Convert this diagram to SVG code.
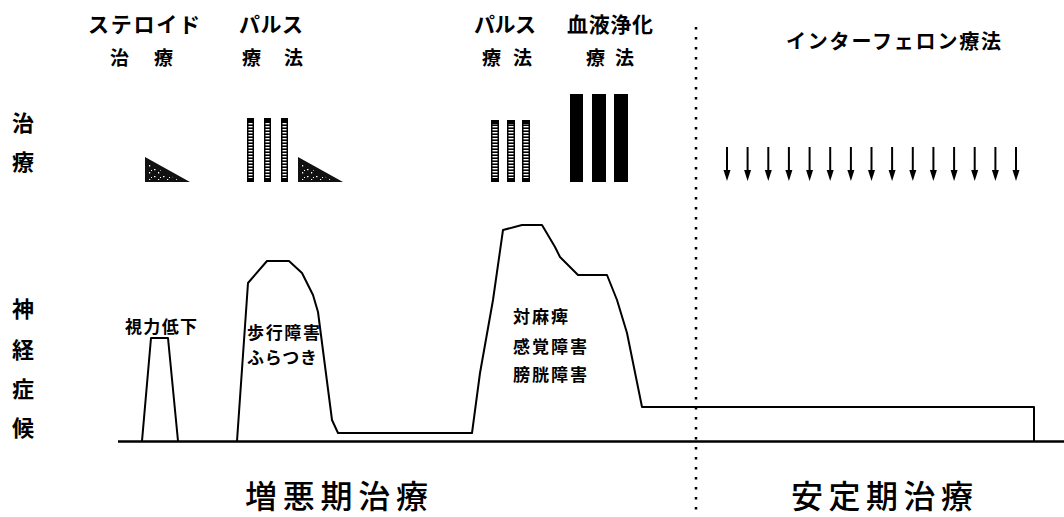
<svg xmlns="http://www.w3.org/2000/svg" width="1064" height="517" viewBox="0 0 1064 517">
<style>
.t{font-family:"Noto Sans CJK JP","Noto Sans CJK SC",sans-serif;fill:#000;font-weight:700}
.b{font-family:"Noto Sans CJK JP","Noto Sans CJK SC",sans-serif;fill:#000;font-weight:500}
.c{fill:none;stroke:#000;stroke-width:2;stroke-linejoin:round}
.bar{fill:#000}
.stripe{fill:url(#stripes)}
.tri{fill:#111}
.speck{fill:url(#specks)}
.arr{stroke:#000;stroke-width:2}
</style>
<defs>
<pattern id="stripes" patternUnits="userSpaceOnUse" width="20" height="3">
<rect x="0" y="0" width="20" height="1.4" fill="#fff"/>
</pattern>
<pattern id="specks" patternUnits="userSpaceOnUse" width="9" height="7">
<rect x="1" y="1" width="1.5" height="1.2" fill="#fff"/>
<rect x="5" y="4" width="1.2" height="1.5" fill="#fff"/>
<rect x="7" y="2" width="1" height="1" fill="#fff"/>
</pattern>
<polygon id="ah" points="-3.5,0 3.5,0 0,11"/>
</defs>

<g id="axis-labels">
<text class="t" x="23" y="121" font-size="22" text-anchor="middle" dominant-baseline="central">治</text>
<text class="t" x="23" y="160" font-size="22" text-anchor="middle" dominant-baseline="central">療</text>
<text class="t" x="23" y="307" font-size="22" text-anchor="middle" dominant-baseline="central">神</text>
<text class="t" x="23" y="348" font-size="22" text-anchor="middle" dominant-baseline="central">経</text>
<text class="t" x="23" y="387" font-size="22" text-anchor="middle" dominant-baseline="central">症</text>
<text class="t" x="23" y="426" font-size="22" text-anchor="middle" dominant-baseline="central">候</text>
</g>

<g id="steroid">
<text class="t" x="88" y="23" font-size="21" textLength="112" lengthAdjust="spacing" dominant-baseline="central">ステロイド</text>
<text class="t" x="110" y="56" font-size="19" textLength="63" lengthAdjust="spacing" dominant-baseline="central">治 療</text>
<polygon class="tri" points="145,157 145,182 190,182"/>
<polygon class="speck" points="147,163 147,180 178,180"/>
</g>

<g id="pulse1">
<text class="t" x="239" y="23" font-size="21" textLength="64" lengthAdjust="spacing" dominant-baseline="central">パルス</text>
<text class="t" x="242" y="56" font-size="19" textLength="61" lengthAdjust="spacing" dominant-baseline="central">療 法</text>
<rect class="bar" x="247" y="118" width="7" height="64"/>
<rect class="stripe" x="248.5" y="122" width="4" height="56"/>
<rect class="bar" x="264" y="118" width="7" height="64"/>
<rect class="stripe" x="265.5" y="122" width="4" height="56"/>
<rect class="bar" x="281" y="118" width="7" height="64"/>
<rect class="stripe" x="282.5" y="122" width="4" height="56"/>
<polygon class="tri" points="298,157 298,182 343,182"/>
<polygon class="speck" points="300,163 300,180 331,180"/>
</g>

<g id="pulse2">
<text class="t" x="474" y="23" font-size="21" textLength="62" lengthAdjust="spacing" dominant-baseline="central">パルス</text>
<text class="t" x="482" y="56" font-size="19" textLength="50" lengthAdjust="spacing" dominant-baseline="central">療 法</text>
<rect class="bar" x="491" y="120" width="8" height="62"/>
<rect class="stripe" x="492.5" y="124" width="5" height="54"/>
<rect class="bar" x="507" y="120" width="8" height="62"/>
<rect class="stripe" x="508.5" y="124" width="5" height="54"/>
<rect class="bar" x="522" y="120" width="8" height="62"/>
<rect class="stripe" x="523.5" y="124" width="5" height="54"/>
</g>

<g id="plasma">
<text class="t" x="567" y="23" font-size="21" textLength="86" lengthAdjust="spacing" dominant-baseline="central">血液浄化</text>
<text class="t" x="586" y="56" font-size="19" textLength="48" lengthAdjust="spacing" dominant-baseline="central">療 法</text>
<rect class="bar" x="570" y="94" width="13" height="88"/>
<rect class="bar" x="592" y="94" width="14" height="88"/>
<rect class="bar" x="614" y="94" width="14" height="88"/>
</g>

<g id="interferon">
<text class="t" x="786" y="40" font-size="20" textLength="215" lengthAdjust="spacing" dominant-baseline="central">インターフェロン療法</text>
<line class="arr" x1="727" y1="147" x2="727" y2="172"/><use href="#ah" x="727" y="170"/>
<line class="arr" x1="747.6" y1="147" x2="747.6" y2="172"/><use href="#ah" x="747.6" y="170"/>
<line class="arr" x1="768.3" y1="147" x2="768.3" y2="172"/><use href="#ah" x="768.3" y="170"/>
<line class="arr" x1="788.9" y1="147" x2="788.9" y2="172"/><use href="#ah" x="788.9" y="170"/>
<line class="arr" x1="809.6" y1="147" x2="809.6" y2="172"/><use href="#ah" x="809.6" y="170"/>
<line class="arr" x1="830.2" y1="147" x2="830.2" y2="172"/><use href="#ah" x="830.2" y="170"/>
<line class="arr" x1="850.9" y1="147" x2="850.9" y2="172"/><use href="#ah" x="850.9" y="170"/>
<line class="arr" x1="871.5" y1="147" x2="871.5" y2="172"/><use href="#ah" x="871.5" y="170"/>
<line class="arr" x1="892.1" y1="147" x2="892.1" y2="172"/><use href="#ah" x="892.1" y="170"/>
<line class="arr" x1="912.8" y1="147" x2="912.8" y2="172"/><use href="#ah" x="912.8" y="170"/>
<line class="arr" x1="933.4" y1="147" x2="933.4" y2="172"/><use href="#ah" x="933.4" y="170"/>
<line class="arr" x1="954.1" y1="147" x2="954.1" y2="172"/><use href="#ah" x="954.1" y="170"/>
<line class="arr" x1="974.7" y1="147" x2="974.7" y2="172"/><use href="#ah" x="974.7" y="170"/>
<line class="arr" x1="995.4" y1="147" x2="995.4" y2="172"/><use href="#ah" x="995.4" y="170"/>
<line class="arr" x1="1016" y1="147" x2="1016" y2="172"/><use href="#ah" x="1016" y="170"/>
</g>

<g id="symptoms">
<polyline class="c" points="142,441 151,338 168,338 178,441"/>
<polyline class="c" points="237,441 248,283 267,261 289,261 302,273 313,295 318,312 332,420 338,433 472,433 480,373 493,300 503,230 522,225 542,225 555,247 560,257 578,275 607,275 617,300 627,333 642,407 1034,407 1034,441"/>
<line x1="118" y1="441.5" x2="1064" y2="441.5" stroke="#000" stroke-width="2.5"/>
<line x1="696" y1="27" x2="696" y2="517" stroke="#000" stroke-width="2.5" stroke-dasharray="2.5 7.5"/>
</g>

<g id="symptom-labels">
<text class="t" x="125" y="325" font-size="17" textLength="72" lengthAdjust="spacing" dominant-baseline="central">視力低下</text>
<text class="t" x="247" y="331" font-size="17" textLength="73" lengthAdjust="spacing" dominant-baseline="central">歩行障害</text>
<text class="t" x="247" y="356" font-size="17" textLength="70" lengthAdjust="spacing" dominant-baseline="central">ふらつき</text>
<text class="t" x="513" y="315" font-size="17" textLength="55" lengthAdjust="spacing" dominant-baseline="central">対麻痺</text>
<text class="t" x="513" y="345" font-size="17" textLength="74" lengthAdjust="spacing" dominant-baseline="central">感覚障害</text>
<text class="t" x="513" y="373" font-size="17" textLength="74" lengthAdjust="spacing" dominant-baseline="central">膀胱障害</text>
</g>

<g id="phase-labels">
<text class="b" x="245" y="494" font-size="32" textLength="183" lengthAdjust="spacing" dominant-baseline="central">増悪期治療</text>
<text class="b" x="791" y="494" font-size="32" textLength="182" lengthAdjust="spacing" dominant-baseline="central">安定期治療</text>
</g>
</svg>
